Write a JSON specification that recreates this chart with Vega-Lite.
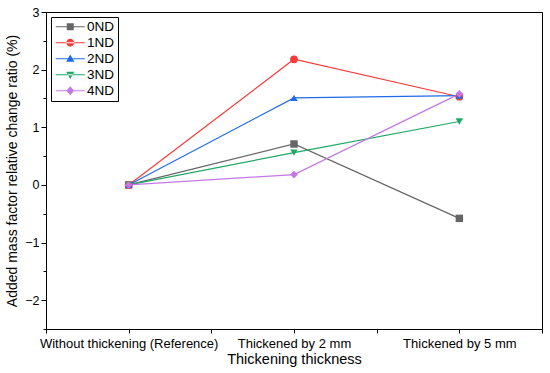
{
  "$schema": "https://vega.github.io/schema/vega-lite/v6.json",
  "width": 496,
  "height": 317,
  "autosize": {"type": "none"},
  "padding": {"left": 46, "top": 12, "right": 8, "bottom": 44},
  "background": "white",
  "config": {
    "font": "Liberation Sans",
    "view": {"stroke": "#000", "strokeWidth": 1},
    "axis": {"domainColor": "#000", "tickColor": "#000", "labelColor": "#000", "titleColor": "#000", "grid": false, "titleFontWeight": "normal"},
    "legend": {
      "orient": "top-left",
      "offset": 5,
      "padding": 3,
      "strokeColor": "#000",
      "fillColor": "white",
      "labelFontSize": 13.5,
      "labelFontWeight": "normal",
      "labelColor": "#000",
      "symbolSize": 100,
      "symbolStrokeWidth": 0,
      "symbolOffset": 9.5,
      "labelOffset": 10,
      "rowPadding": 1
    }
  },
  "data": {
    "values": [
      {"thickness": "Without thickening (Reference)", "series": "0ND", "value": 0},
      {"thickness": "Thickened by 2 mm", "series": "0ND", "value": 0.71},
      {"thickness": "Thickened by 5 mm", "series": "0ND", "value": -0.58},
      {"thickness": "Without thickening (Reference)", "series": "1ND", "value": 0},
      {"thickness": "Thickened by 2 mm", "series": "1ND", "value": 2.18},
      {"thickness": "Thickened by 5 mm", "series": "1ND", "value": 1.53},
      {"thickness": "Without thickening (Reference)", "series": "2ND", "value": 0},
      {"thickness": "Thickened by 2 mm", "series": "2ND", "value": 1.51},
      {"thickness": "Thickened by 5 mm", "series": "2ND", "value": 1.55},
      {"thickness": "Without thickening (Reference)", "series": "3ND", "value": 0},
      {"thickness": "Thickened by 2 mm", "series": "3ND", "value": 0.56},
      {"thickness": "Thickened by 5 mm", "series": "3ND", "value": 1.1},
      {"thickness": "Without thickening (Reference)", "series": "4ND", "value": 0},
      {"thickness": "Thickened by 2 mm", "series": "4ND", "value": 0.18},
      {"thickness": "Thickened by 5 mm", "series": "4ND", "value": 1.58}
    ]
  },
  "layer": [
    {
      "mark": {"type": "point", "filled": true, "opacity": 1, "size": 1},
      "encoding": {
        "x": {"field": "thickness", "type": "nominal", "sort": ["Without thickening (Reference)", "Thickened by 2 mm", "Thickened by 5 mm"], "scale": {"type": "point", "padding": 0.5}, "axis": null},
        "y": {"field": "value", "type": "quantitative", "axis": null},
        "color": {"field": "series", "type": "nominal"},
        "shape": {
          "field": "series", "type": "nominal",
          "scale": {"domain": ["0ND", "1ND", "2ND", "3ND", "4ND"], "range": [
            "M-2.9,-0.12H2.9V0.12H-2.9ZM-0.7,-0.7H0.7V0.7H-0.7Z",
            "M-2.9,-0.12H2.9V0.12H-2.9ZM-0.78,0A0.78,0.78 0 1,0 0.78,0A0.78,0.78 0 1,0 -0.78,0Z",
            "M-2.9,-0.12H2.9V0.12H-2.9ZM0,-0.85L0.82,0.6H-0.82Z",
            "M-2.9,-0.12H2.9V0.12H-2.9ZM0,0.85L0.82,-0.6H-0.82Z",
            "M-2.9,-0.12H2.9V0.12H-2.9ZM0,-0.9L0.78,0L0,0.9L-0.78,0Z"
          ]},
          "legend": {"title": null}
        }
      }
    },
    {
      "mark": {"type": "line", "strokeWidth": 1.2},
      "encoding": {
        "x": {
          "field": "thickness", "type": "nominal",
          "sort": ["Without thickening (Reference)", "Thickened by 2 mm", "Thickened by 5 mm"],
          "scale": {"type": "point", "padding": 0.5},
          "axis": {"title": "Thickening thickness", "titleFontSize": 14.5, "labelFontSize": 13, "labelAngle": 0, "tickSize": 4, "labelPadding": 4, "titlePadding": 2}
        },
        "y": {
          "field": "value", "type": "quantitative",
          "scale": {"domain": [-2.5, 3], "nice": false, "zero": false},
          "axis": {"title": "Added mass factor relative change ratio (%)", "titleFontSize": 14, "labelFontSize": 12.5, "values": [-2, -1, 0, 1, 2, 3], "tickSize": 5, "labelPadding": 2, "titlePadding": 5}
        },
        "color": {
          "field": "series", "type": "nominal",
          "scale": {"domain": ["0ND", "1ND", "2ND", "3ND", "4ND"], "range": ["#666666", "#f83a3a", "#1f6be6", "#1fa866", "#c378e6"]},
          "legend": {"title": null}
        }
      }
    },
    {
      "transform": [{"filter": "datum.series === '0ND'"}],
      "mark": {"type": "point", "filled": true, "opacity": 1, "size": 55, "shape": "square"},
      "encoding": {
        "x": {"field": "thickness", "type": "nominal", "sort": ["Without thickening (Reference)", "Thickened by 2 mm", "Thickened by 5 mm"], "scale": {"type": "point", "padding": 0.5}, "axis": null},
        "y": {"field": "value", "type": "quantitative", "axis": null},
        "color": {"field": "series", "type": "nominal"}
      }
    },
    {
      "transform": [{"filter": "datum.series === '1ND'"}],
      "mark": {"type": "point", "filled": true, "opacity": 1, "size": 60, "shape": "circle"},
      "encoding": {
        "x": {"field": "thickness", "type": "nominal", "sort": ["Without thickening (Reference)", "Thickened by 2 mm", "Thickened by 5 mm"], "scale": {"type": "point", "padding": 0.5}, "axis": null},
        "y": {"field": "value", "type": "quantitative", "axis": null},
        "color": {"field": "series", "type": "nominal"}
      }
    },
    {
      "transform": [{"filter": "datum.series === '2ND'"}],
      "mark": {"type": "point", "filled": true, "opacity": 1, "size": 55, "shape": "triangle-up"},
      "encoding": {
        "x": {"field": "thickness", "type": "nominal", "sort": ["Without thickening (Reference)", "Thickened by 2 mm", "Thickened by 5 mm"], "scale": {"type": "point", "padding": 0.5}, "axis": null},
        "y": {"field": "value", "type": "quantitative", "axis": null},
        "color": {"field": "series", "type": "nominal"}
      }
    },
    {
      "transform": [{"filter": "datum.series === '3ND'"}],
      "mark": {"type": "point", "filled": true, "opacity": 1, "size": 55, "shape": "triangle-down"},
      "encoding": {
        "x": {"field": "thickness", "type": "nominal", "sort": ["Without thickening (Reference)", "Thickened by 2 mm", "Thickened by 5 mm"], "scale": {"type": "point", "padding": 0.5}, "axis": null},
        "y": {"field": "value", "type": "quantitative", "axis": null},
        "color": {"field": "series", "type": "nominal"}
      }
    },
    {
      "transform": [{"filter": "datum.series === '4ND'"}],
      "mark": {"type": "point", "filled": true, "opacity": 1, "size": 60, "shape": "diamond"},
      "encoding": {
        "x": {"field": "thickness", "type": "nominal", "sort": ["Without thickening (Reference)", "Thickened by 2 mm", "Thickened by 5 mm"], "scale": {"type": "point", "padding": 0.5}, "axis": null},
        "y": {"field": "value", "type": "quantitative", "axis": null},
        "color": {"field": "series", "type": "nominal"}
      }
    },
    {
      "mark": {"type": "point", "opacity": 0},
      "encoding": {
        "x": {
          "field": "thickness", "type": "nominal",
          "sort": ["Without thickening (Reference)", "Thickened by 2 mm", "Thickened by 5 mm"],
          "scale": {"type": "band", "paddingInner": 0, "paddingOuter": 0},
          "axis": {"title": null, "labels": false, "domain": false, "tickBand": "extent", "tickSize": 4, "orient": "bottom"}
        },
        "y": {
          "field": "value", "type": "quantitative",
          "axis": {"title": null, "labels": false, "domain": false, "values": [-2.5, -1.5, -0.5, 0.5, 1.5, 2.5], "tickSize": 3, "orient": "left"}
        }
      }
    }
  ],
  "resolve": {
    "scale": {"x": "independent"},
    "axis": {"x": "independent", "y": "independent"}
  }
}
